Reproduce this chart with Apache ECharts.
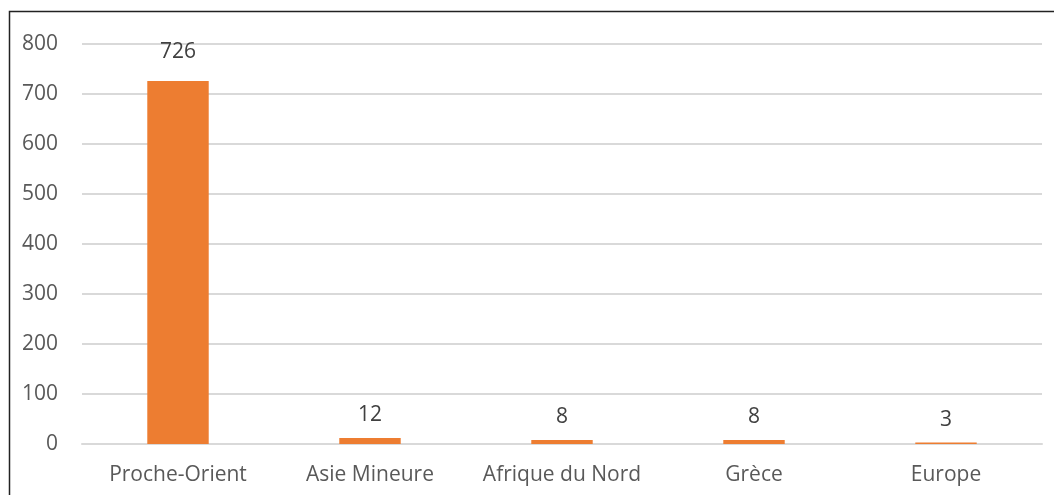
<!DOCTYPE html>
<html>
<head>
<meta charset="utf-8">
<script src="https://cdn.jsdelivr.net/npm/echarts@6/dist/echarts.min.js"></script>
<style>
  html, body { margin: 0; padding: 0; background: #fff; }
  #chart { width: 1054px; height: 495px; }
</style>
</head>
<body>
<div id="chart"></div>
<script>
var regions = ['Proche-Orient', 'Asie Mineure', 'Afrique du Nord', 'Grèce', 'Europe'];
var counts = [726, 12, 8, 8, 3];
var yTicks = { min: 0, max: 800, interval: 100 };

var myChart = echarts.init(document.getElementById('chart'));

// the tall bar's label sits a little higher above it than the short ones
var barData = counts.map(function (v) {
    return v > 100 ? { value: v, label: { distance: 18 } } : v;
});

var option = {
    backgroundColor: '#fff',
    textStyle: { fontFamily: '"Open Sans", Lato, sans-serif' },
    graphic: [
        {
            type: 'rect',
            shape: { x: 9.5, y: 11.5, width: 1100, height: 600 },
            style: { fill: 'none', stroke: '#222', lineWidth: 1.5 },
            silent: true
        }
    ],
    grid: {
        left: 82,
        right: 12,
        top: 44,
        bottom: 51
    },
    xAxis: {
        type: 'category',
        data: regions,
        axisTick: { show: false },
        axisLine: { lineStyle: { color: '#d9d9d9', width: 2 } },
        axisLabel: { color: '#595959', fontSize: 21, margin: 21, interval: 0 }
    },
    yAxis: {
        type: 'value',
        min: yTicks.min,
        max: yTicks.max,
        interval: yTicks.interval,
        axisLine: { show: false },
        axisTick: { show: false },
        axisLabel: { color: '#595959', fontSize: 21, margin: 24 },
        splitLine: { lineStyle: { color: '#d9d9d9', width: 2 } }
    },
    series: [
        {
            type: 'bar',
            data: barData,
            barWidth: '32%',
            itemStyle: { color: '#ED7D31' },
            label: {
                show: true,
                position: 'top',
                distance: 12,
                color: '#404040',
                fontSize: 21
            }
        }
    ]
};
myChart.setOption(option);
</script>
</body>
</html>
